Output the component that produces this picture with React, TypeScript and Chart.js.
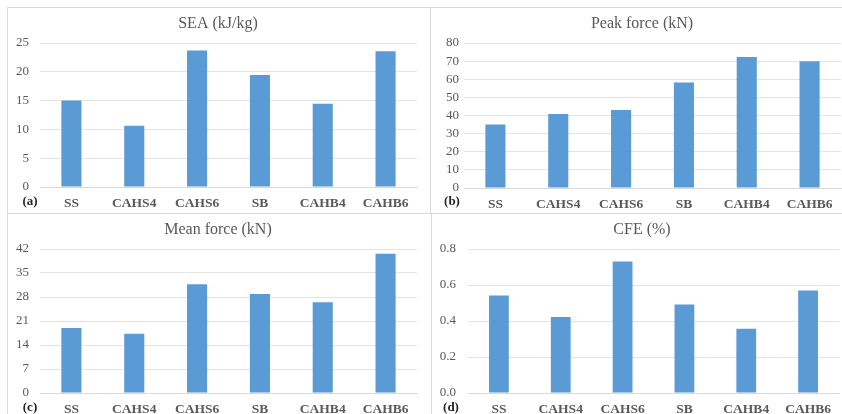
import React, { useEffect, useRef } from "react";
import { Chart, registerables } from "chart.js";

Chart.register(...registerables);

const categories = ["SS", "CAHS4", "CAHS6", "SB", "CAHB4", "CAHB6"];

const seaValues = [15.0, 10.65, 23.7, 19.45, 14.45, 23.55];
const peakForceValues = [35.1, 40.8, 43.1, 58.2, 72.3, 69.9];
const meanForceValues = [18.95, 17.3, 31.7, 28.9, 26.5, 40.6];
const cfeValues = [0.541, 0.422, 0.73, 0.491, 0.357, 0.569];

const seaTicks = { max: 25, step: 5, decimals: 0 };
const peakTicks = { max: 80, step: 10, decimals: 0 };
const meanTicks = { max: 42, step: 7, decimals: 0 };
const cfeTicks = { max: 0.8, step: 0.2, decimals: 1 };

const BAR = "#5b9bd5";
const TEXT = "#595959";
const GRID = "#e3e3e3";
const FRAME = "#d9d9d9";
const FONT = "'Liberation Serif', 'Times New Roman', serif";

type Box = { left: number; top: number; width: number; height: number };
type Area = { left: number; top: number; right: number; bottom: number };

type PanelProps = {
  title: string;
  tag: string;
  values: number[];
  ticks: { max: number; step: number; decimals: number };
  box: Box;
  area: Area;
  tickPad: number;
  titleX: number;
  titleY: number;
  tagX: number;
  tagY: number;
};

function Panel(p: PanelProps) {
  const ref = useRef<HTMLCanvasElement | null>(null);

  useEffect(() => {
    const canvas = ref.current;
    if (!canvas) return;
    const { box, area } = p;
    const yWidth = area.left - box.left;
    const xHeight = box.top + box.height - area.bottom;

    const labelsPlugin = {
      id: "panelText",
      afterDraw(chart: Chart) {
        const ctx = chart.ctx;
        ctx.save();
        ctx.textAlign = "center";
        ctx.textBaseline = "middle";
        ctx.fillStyle = TEXT;
        ctx.font = `16px ${FONT}`;
        ctx.fillText(p.title, p.titleX - box.left, p.titleY - box.top);
        ctx.fillStyle = "#262626";
        ctx.font = `bold 13px ${FONT}`;
        ctx.fillText(p.tag, p.tagX - box.left, p.tagY - box.top);
        ctx.restore();
      },
    };

    const chart = new Chart(canvas, {
      type: "bar",
      data: {
        labels: categories,
        datasets: [
          {
            data: p.values,
            backgroundColor: BAR,
            borderWidth: 0,
            categoryPercentage: 1,
            barPercentage: 0.32,
          },
        ],
      },
      options: {
        responsive: false,
        animation: false,
        devicePixelRatio: 1,
        layout: {
          padding: {
            left: 0,
            top: area.top - box.top,
            right: box.left + box.width - area.right,
            bottom: 0,
          },
        },
        plugins: {
          legend: { display: false },
          tooltip: { enabled: false },
          title: { display: false },
        },
        scales: {
          x: {
            grid: { display: false, drawTicks: false },
            border: { display: true, color: FRAME, width: 1 },
            ticks: {
              color: TEXT,
              font: { family: FONT, size: 13.5, weight: "bold" },
              padding: 8,
              maxRotation: 0,
              autoSkip: false,
            },
            afterFit(scale: any) {
              scale.height = xHeight;
            },
          },
          y: {
            min: 0,
            max: p.ticks.max,
            grid: { color: GRID, lineWidth: 1, drawTicks: false },
            border: { display: false },
            ticks: {
              stepSize: p.ticks.step,
              autoSkip: false,
              color: TEXT,
              font: { family: FONT, size: 13 },
              padding: p.tickPad,
              callback: (v: any) => Number(v).toFixed(p.ticks.decimals),
            },
            afterFit(scale: any) {
              scale.width = yWidth;
            },
          },
        },
      },
      plugins: [labelsPlugin],
    });

    return () => chart.destroy();
  }, []);

  return (
    <canvas
      ref={ref}
      width={p.box.width}
      height={p.box.height}
      style={{
        position: "absolute",
        left: p.box.left,
        top: p.box.top,
        width: p.box.width,
        height: p.box.height,
      }}
    />
  );
}

const line = (style: React.CSSProperties) => (
  <div style={{ position: "absolute", background: FRAME, ...style }} />
);

export default function App() {
  return (
    <div
      style={{
        position: "fixed",
        left: 0,
        top: 0,
        width: 842,
        height: 414,
        background: "#ffffff",
        overflow: "hidden",
      }}
    >
      {line({ left: 7, top: 7, width: 423, height: 1 })}
      {line({ left: 431, top: 7, width: 411, height: 1 })}
      {line({ left: 7, top: 7, width: 1, height: 206 })}
      {line({ left: 430, top: 7, width: 1, height: 206 })}
      {line({ left: 7, top: 213, width: 835, height: 1 })}
      {line({ left: 7, top: 213, width: 1, height: 201 })}
      {line({ left: 431, top: 213, width: 1, height: 201 })}

      <Panel
        title="SEA (kJ/kg)"
        tag="(a)"
        values={seaValues}
        ticks={seaTicks}
        box={{ left: 8, top: 8, width: 422, height: 204 }}
        area={{ left: 40, top: 43, right: 417, bottom: 187 }}
        tickPad={11}
        titleX={218}
        titleY={24}
        tagX={30}
        tagY={202}
      />
      <Panel
        title="Peak force (kN)"
        tag="(b)"
        values={peakForceValues}
        ticks={peakTicks}
        box={{ left: 431, top: 8, width: 411, height: 204 }}
        area={{ left: 464, top: 43, right: 841, bottom: 188 }}
        tickPad={5}
        titleX={642}
        titleY={24}
        tagX={452}
        tagY={202}
      />
      <Panel
        title="Mean force (kN)"
        tag="(c)"
        values={meanForceValues}
        ticks={meanTicks}
        box={{ left: 8, top: 214, width: 422, height: 200 }}
        area={{ left: 40, top: 249, right: 417, bottom: 393 }}
        tickPad={11}
        titleX={218}
        titleY={230}
        tagX={30}
        tagY={408}
      />
      <Panel
        title="CFE (%)"
        tag="(d)"
        values={cfeValues}
        ticks={cfeTicks}
        box={{ left: 432, top: 214, width: 410, height: 200 }}
        area={{ left: 468, top: 249, right: 839, bottom: 393 }}
        tickPad={12}
        titleX={642}
        titleY={230}
        tagX={451}
        tagY={408}
      />
    </div>
  );
}
